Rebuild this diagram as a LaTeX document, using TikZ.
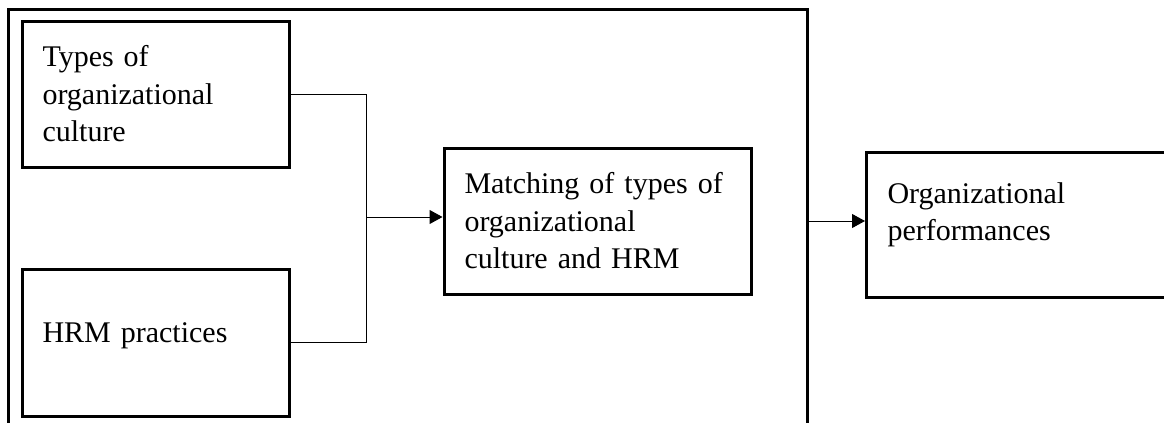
\documentclass[tikz,border=0pt]{standalone}
\usepackage{fontspec}
\setmainfont{Liberation Serif}
\usetikzlibrary{arrows.meta,positioning}

\begin{document}
\begin{tikzpicture}[x=0.5pt,y=-0.5pt,
    box/.style={draw, line width=1.5pt, rectangle, align=left, inner xsep=10pt,
                font=\fontsize{15}{18.75}\selectfont},
    link/.style={line width=0.5pt},
    arr/.style={link, -{Triangle[length=6.5pt,width=7pt]}}]
   \useasboundingbox (0,0) rectangle (1164,423);
   \clip (0,0) rectangle (1164,423);

   % outer frame, runs below the page
   \node[draw, line width=1.5pt, minimum width=399.5pt, minimum height=215.5pt]
        (frame) at (407.5,224.5) {};

   \node[box, minimum width=133.5pt, minimum height=73pt, text width=113pt]
        (culture) at (155.5,94) {Types of\\organizational\\culture};
   \node[box, minimum width=133.5pt, minimum height=73.5pt, text width=113pt, text depth=10pt]
        (hrm) at (155.5,342.5) {HRM practices};
   \node[box, minimum width=153.5pt, minimum height=73pt, text width=133pt]
        (match) at (597.5,221) {Matching of types of\\organizational\\culture and HRM};
   \node[box, minimum width=165pt, minimum height=72.5pt, text width=144pt, text depth=32pt, anchor=north west]
        (perf) at (865,151) {Organizational\\performances};

   \coordinate (join) at (366,217);
   \draw[link] (culture.east) -| (join);
   \draw[link] (hrm.east) -| (join);
   \draw[arr] (join) -- (join -| match.west);
   \draw[arr] (match.east -| frame.east) -- (match.east -| perf.west);
\end{tikzpicture}
\end{document}
